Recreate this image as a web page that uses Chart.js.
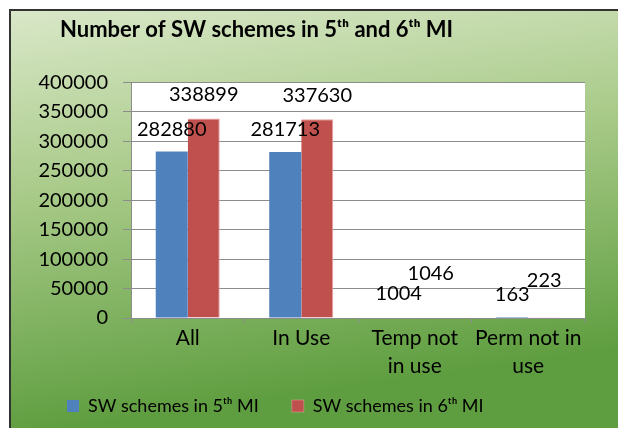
<!DOCTYPE html>
<html>
<head>
<meta charset="utf-8">
<script src="https://cdn.jsdelivr.net/npm/chart.js@4/dist/chart.umd.min.js"></script>
<style>
  html, body { margin: 0; padding: 0; background: #fff; }
  canvas { display: block; }
</style>
</head>
<body>
<canvas id="c" width="618" height="428"></canvas>
<script>
const categories = [["All"], ["In Use"], ["Temp not", "in use"], ["Perm not in", "use"]];
const series5th = [282880, 281713, 1004, 163];
const series6th = [338899, 337630, 1046, 223];
const seriesNames = ["SW schemes in 5\u1D57\u02B0 MI", "SW schemes in 6\u1D57\u02B0 MI"];
const chartTitle = "Number of SW schemes in 5\u1D57\u02B0 and 6\u1D57\u02B0 MI";
const yTicks = [0, 50000, 100000, 150000, 200000, 250000, 300000, 350000, 400000];

const FONT = "Lato, 'Open Sans', sans-serif";

// per-label vertical lift above bar top (Excel overlap avoidance)
const labelLift = [[22, 23, 24, 23], [24, 24, 44, 37]];

const LEGEND_PAD = 33;

const framePlugin = {
  id: 'frame',
  beforeDraw(chart) {
    const ctx = chart.ctx;
    const W = chart.width, H = chart.height;
    ctx.save();
    ctx.fillStyle = '#ffffff';
    ctx.fillRect(0, 0, W, H);
    const g = ctx.createLinearGradient(0, 9, 60, H);
    g.addColorStop(0, '#dae8c9');
    g.addColorStop(0.45, '#a8ca88');
    g.addColorStop(1, '#5f9e40');
    ctx.fillStyle = g;
    ctx.fillRect(9, 9, W - 9, H - 9);
    ctx.strokeStyle = '#333333';
    ctx.lineWidth = 2;
    ctx.beginPath();
    ctx.moveTo(10, H);
    ctx.lineTo(10, 10);
    ctx.lineTo(W, 10);
    ctx.stroke();
    const a = chart.chartArea;
    ctx.fillStyle = '#ffffff';
    ctx.fillRect(a.left, a.top, a.right - a.left, a.bottom - a.top);
    ctx.restore();
  },
  afterLayout(chart) {
    if (chart.titleBlock) { chart.titleBlock.left = 60; }
    const L = chart.legend;
    if (L) {
      const h = L.height;
      L.top = 364;
      L.bottom = 364 + h;
      L.left = 67 - LEGEND_PAD;
    }
    if (chart.scales.x) { chart.scales.x.bottom = 392; }
  }
};

const labelPlugin = {
  id: 'barLabels',
  afterDatasetsDraw(chart) {
    const ctx = chart.ctx;
    ctx.save();
    ctx.font = "20px " + FONT;
    ctx.fillStyle = '#000';
    ctx.textAlign = 'center';
    ctx.textBaseline = 'middle';
    chart.data.datasets.forEach((ds, di) => {
      const meta = chart.getDatasetMeta(di);
      meta.data.forEach((bar, i) => {
        ctx.fillText(String(ds.data[i]), bar.x, bar.y - labelLift[di][i]);
      });
    });
    ctx.restore();
  }
};

new Chart(document.getElementById('c'), {
  type: 'bar',
  data: {
    labels: categories,
    datasets: [
      { label: seriesNames[0], data: series5th, backgroundColor: '#4f81bd', borderWidth: 0 },
      { label: seriesNames[1], data: series6th, backgroundColor: '#c0504d', borderColor: '#e6a3a1', borderWidth: {left: 0, right: 1, top: 1, bottom: 0} }
    ]
  },
  options: {
    responsive: false,
    animation: false,
    devicePixelRatio: 1,
    layout: { padding: { left: 10, right: 33, top: 6, bottom: 0 } },
    datasets: { bar: { categoryPercentage: 0.564, barPercentage: 1.0 } },
    plugins: {
      title: {
        display: true,
        align: 'start',
        text: chartTitle,
        color: '#000',
        font: { family: FONT, size: 22, weight: 'bold', lineHeight: 1.2 },
        padding: { top: 11, bottom: 39 }
      },
      legend: {
        display: true,
        position: 'bottom',
        align: 'start',
        labels: {
          color: '#000',
          font: { family: FONT, size: 18 },
          boxWidth: 12,
          boxHeight: 12,
          padding: LEGEND_PAD
        }
      },
      tooltip: { enabled: false }
    },
    scales: {
      x: {
        grid: { display: true, offset: true, drawOnChartArea: false, drawTicks: true, tickLength: 5, color: '#8c8c8c' },
        border: { display: true, color: '#8c8c8c', width: 1 },
        ticks: { color: '#000', font: { family: FONT, size: 21, lineHeight: 1.35 }, padding: 1, maxRotation: 0, autoSkip: false },
        afterFit(scale) { scale.height = 49; }
      },
      y: {
        min: 0, max: 400000,
        afterBuildTicks(scale) { scale.ticks = yTicks.map(v => ({ value: v })); },
        grid: { color: '#8c8c8c', tickLength: 8, drawTicks: true },
        border: { display: true, color: '#8c8c8c', width: 1 },
        ticks: { color: '#000', font: { family: FONT, size: 20 }, padding: 15, callback: v => String(v) },
        afterFit(scale) { scale.width = 121; }
      }
    }
  },
  plugins: [framePlugin, labelPlugin]
});
</script>
</body>
</html>
